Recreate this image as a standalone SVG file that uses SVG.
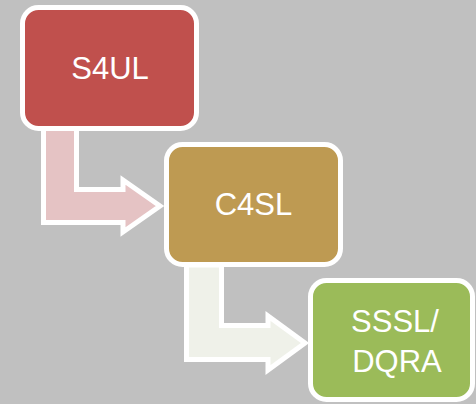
<svg xmlns="http://www.w3.org/2000/svg" width="476" height="404" viewBox="0 0 476 404">
<style>
.box{stroke:#FFFFFF;stroke-width:5}
.arr{stroke:#FFFFFF;stroke-width:5;stroke-linejoin:miter}
.lbl{font-family:"Liberation Sans",Arial,sans-serif;font-size:31px;fill:#FFFFFF;text-anchor:middle}
</style>
<rect x="0" y="0" width="476" height="404" fill="#C0C0C0"/>
<g id="connectors">
<path class="arr" fill="#E5C3C4" d="M43.5,128 L76.5,128 L76.5,189.5 L123,189.5 L123,180 L160,206 L123,232 L123,222.5 L43.5,222.5 Z"/>
<path class="arr" fill="#EFF1E9" d="M186.5,265 L221.5,265 L221.5,325.5 L268,325.5 L268,316 L305,343 L268,370 L268,359.5 L186.5,359.5 Z"/>
</g>
<g id="node-s4ul">
<rect class="box" x="22.5" y="7.5" width="174" height="121" rx="16" fill="#C0504D"/>
<text class="lbl" x="110" y="79">S4UL</text>
</g>
<g id="node-c4sl">
<rect class="box" x="166.5" y="144.5" width="174" height="120" rx="16" fill="#BE9A52"/>
<text class="lbl" x="253.5" y="215">C4SL</text>
</g>
<g id="node-sssl">
<rect class="box" x="310.5" y="280.5" width="162" height="119" rx="16" fill="#9BBB59"/>
<text class="lbl" x="395" y="332">SSSL/</text>
<text class="lbl" x="397" y="372">DQRA</text>
</g>
</svg>
